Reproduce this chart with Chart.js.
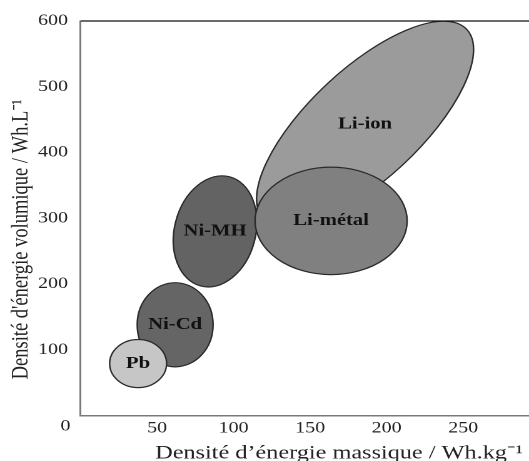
<!DOCTYPE html>
<html>
<head>
<meta charset="utf-8">
<script src="https://cdn.jsdelivr.net/npm/chart.js@4.4.1/dist/chart.umd.min.js"></script>
<style>
  html, body { margin: 0; padding: 0; background: #fff; overflow: hidden; }
</style>
</head>
<body>
<!-- the reference picture is stretched sideways, so the canvas is too -->
<canvas id="chart" width="423" height="461" style="width:529px;height:461px;display:block"></canvas>
<script>
// Diagramme de Ragone : densité d'énergie massique / volumique
// ordre = ordre de dessin (Pb passe sur Ni-Cd, Li-métal sur Li-ion)
const technologies = ['Ni-Cd', 'Pb', 'Ni-MH', 'Li-ion', 'Li-métal'];

// centre de chaque domaine (Wh/kg, Wh/L)
const centreMassique  = [61.8, 37.6, 87.9, 185.9, 163.7];
const centreVolumique = [138, 79, 280, 443, 296];

// demi-axes conjugués de chaque domaine, en unités des données
const axeA_massique  = [24.8, 18.6, 9.5, 66.5, 49.7];
const axeA_volumique = [0, 0, 83, 144, 0];
const axeB_massique  = [0, 0, 25.6, 24.6, 0];
const axeB_volumique = [64, 36.6, -16, -61.8, 81.7];

const ticksMassique  = [0, 50, 100, 150, 200, 250];
const ticksVolumique = [0, 100, 200, 300, 400, 500, 600];

const couleurs = ['#656565', '#c6c6c6', '#636363', '#9b9b9b', '#808080'];

const SERIF = '"Liberation Serif", "Times New Roman", serif';

const ellipsesPlugin = {
    id: 'ellipses',
    beforeDatasetsDraw(chart) {
        const { ctx, scales: { x, y } } = chart;
        ctx.save();
        technologies.forEach((nom, i) => {
            const cx = x.getPixelForValue(centreMassique[i]);
            const cy = y.getPixelForValue(centreVolumique[i]);
            const ax = x.getPixelForValue(centreMassique[i] + axeA_massique[i]) - cx;
            const ay = y.getPixelForValue(centreVolumique[i] + axeA_volumique[i]) - cy;
            const bx = x.getPixelForValue(centreMassique[i] + axeB_massique[i]) - cx;
            const by = y.getPixelForValue(centreVolumique[i] + axeB_volumique[i]) - cy;

            ctx.save();
            ctx.beginPath();
            ctx.transform(ax, ay, bx, by, cx, cy);
            ctx.arc(0, 0, 1, 0, Math.PI * 2);
            ctx.restore();

            ctx.fillStyle = couleurs[i];
            ctx.fill();
            ctx.lineWidth = 1.2;
            ctx.strokeStyle = '#2a2a2a';
            ctx.stroke();
        });

        // noms des technologies
        ctx.fillStyle = '#111';
        ctx.font = 'bold 16.5px ' + SERIF;
        ctx.textAlign = 'center';
        ctx.textBaseline = 'middle';
        technologies.forEach((nom, i) => {
            ctx.fillText(nom, x.getPixelForValue(centreMassique[i]), y.getPixelForValue(centreVolumique[i]));
        });
        ctx.restore();
    },
    afterDraw(chart) {
        const { ctx, chartArea, scales: { x, y } } = chart;
        ctx.save();
        // trait du haut du cadre
        ctx.strokeStyle = '#111';
        ctx.lineWidth = 1.3;
        ctx.beginPath();
        ctx.moveTo(chartArea.left, chartArea.top);
        ctx.lineTo(chartArea.right, chartArea.top);
        ctx.stroke();

        // le "0" de l'origine, décalé à gauche
        ctx.fillStyle = '#222';
        ctx.font = '16px ' + SERIF;
        ctx.textAlign = 'center';
        ctx.textBaseline = 'top';
        ctx.fillText('0', x.getPixelForValue(0) - 12, x.top + 3);

        // titre de l'axe vertical
        ctx.translate(17, (chartArea.top + chartArea.bottom) / 2 + 21);
        ctx.rotate(-Math.PI / 2);
        ctx.font = '18.5px ' + SERIF;
        ctx.textBaseline = 'middle';
        ctx.fillText('Densité d\'énergie volumique / Wh.L⁻¹', 0, 0);
        ctx.restore();
    }
};

new Chart(document.getElementById('chart'), {
    type: 'scatter',
    data: {
        datasets: [{
            data: technologies.map((t, i) => ({ x: centreMassique[i], y: centreVolumique[i] })),
            pointRadius: 0,
            pointHoverRadius: 0
        }]
    },
    options: {
        responsive: false,
        animation: false,
        devicePixelRatio: 2,
        layout: { padding: { top: 21, right: 0, bottom: 0, left: 0 } },
        plugins: {
            legend: { display: false },
            tooltip: { enabled: false }
        },
        scales: {
            x: {
                type: 'linear',
                min: 0,
                max: 293,
                afterBuildTicks: (scale) => { scale.ticks = ticksMassique.map(v => ({ value: v })); },
                afterFit: (scale) => { scale.height = 45.5; },
                grid: { display: false, drawTicks: false },
                border: { color: '#7a7a7a', width: 1.5 },
                ticks: {
                    padding: 3,
                    color: '#222',
                    font: { family: SERIF, size: 16 },
                    callback: (v) => (v === 0 ? '' : v)
                },
                title: {
                    display: true,
                    // espace final : le titre s'arrête un peu avant le bord droit
                    text: 'Densité d’énergie massique / Wh.kg⁻¹ ',
                    align: 'end',
                    color: '#222',
                    font: { family: SERIF, size: 19.4 },
                    padding: { top: 0, bottom: -4 }
                }
            },
            y: {
                type: 'linear',
                min: 0,
                max: 600,
                afterBuildTicks: (scale) => { scale.ticks = ticksVolumique.map(v => ({ value: v })); },
                afterFit: (scale) => { scale.width = 64.4; },
                grid: { display: false, drawTicks: false },
                border: { color: '#7a7a7a', width: 1.5 },
                ticks: {
                    padding: 10,
                    color: '#222',
                    font: { family: SERIF, size: 16 },
                    callback: (v) => (v === 0 ? '' : v)
                }
            }
        }
    },
    plugins: [ellipsesPlugin]
});
</script>
</body>
</html>
